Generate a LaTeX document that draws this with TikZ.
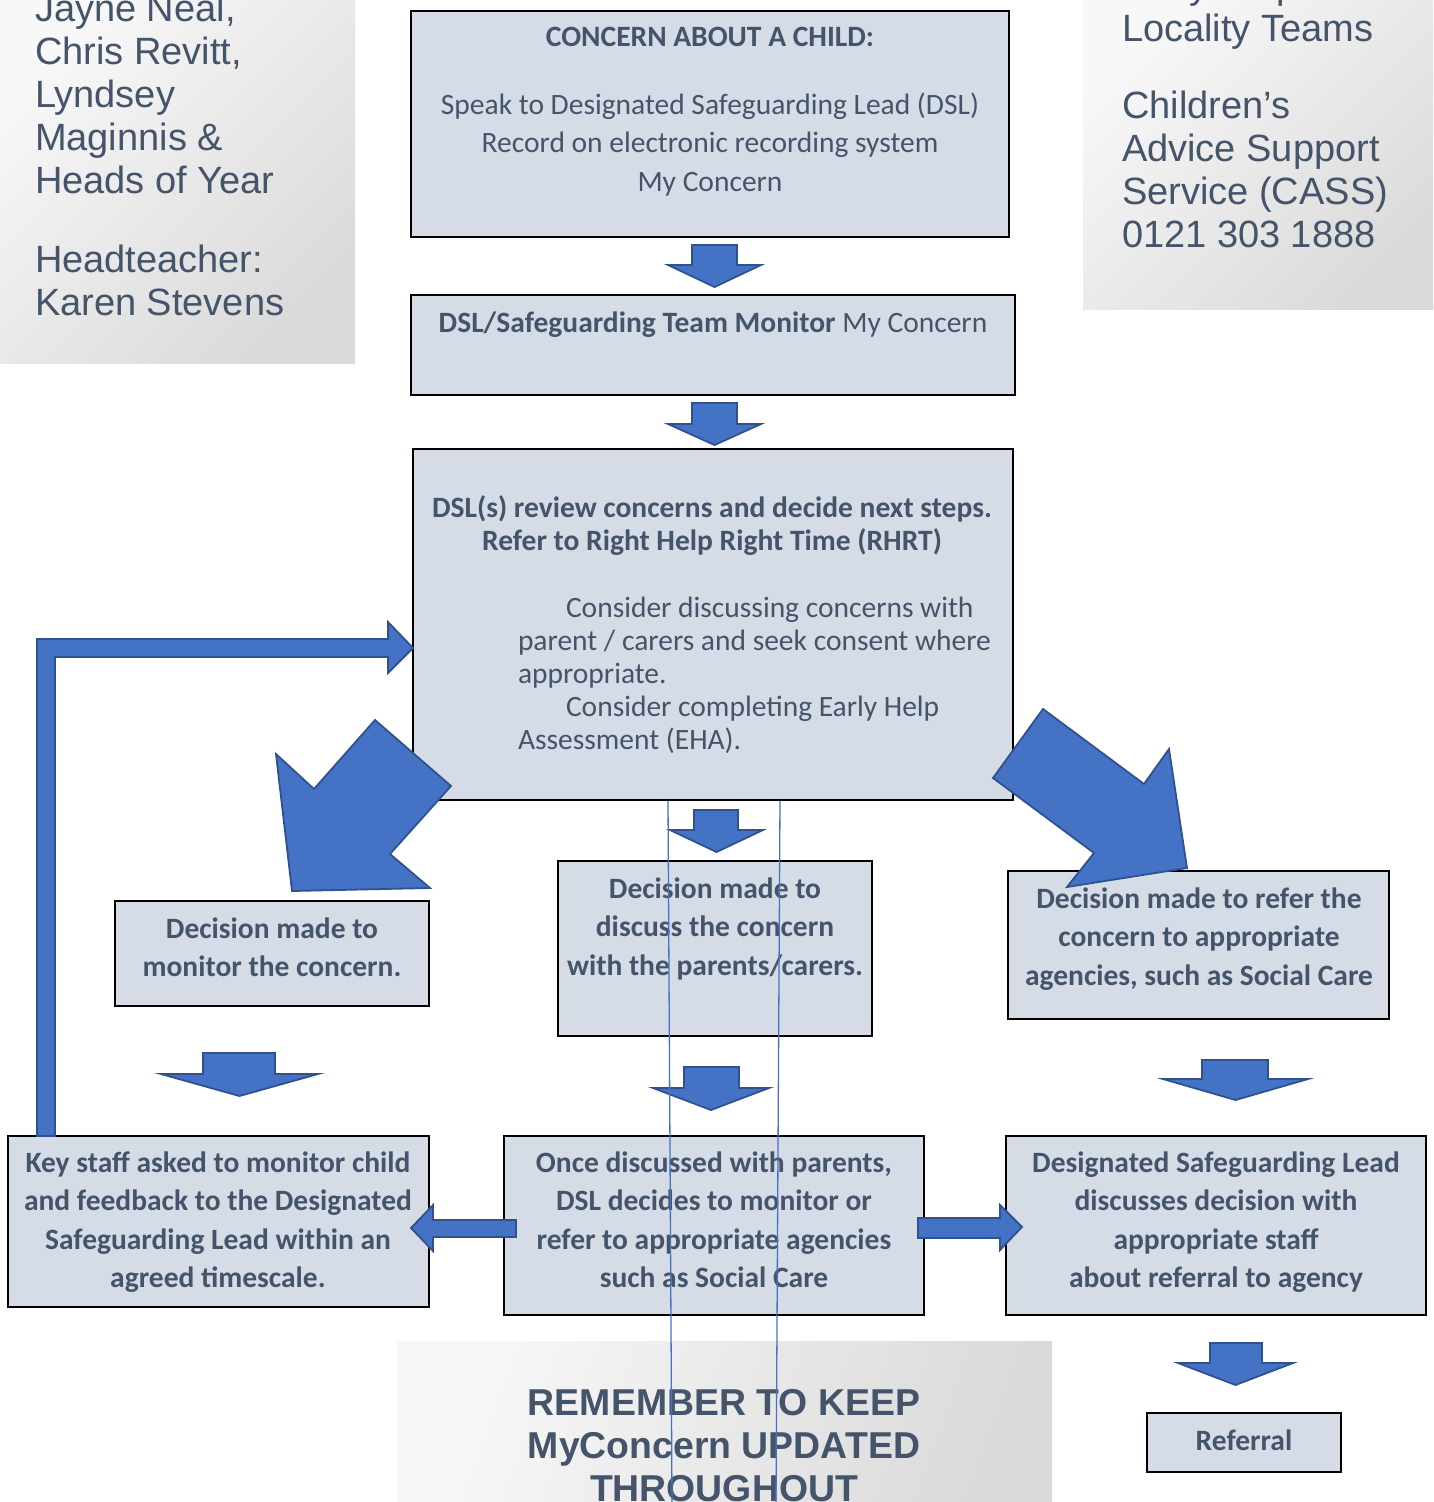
\documentclass[tikz,border=0pt]{standalone}
\usepackage{fontspec}
\setmainfont{Carlito}
\newfontfamily\arialf{Liberation Sans}
\definecolor{boxfill}{HTML}{D6DCE5}
\definecolor{tc}{HTML}{44546A}
\definecolor{ablue}{HTML}{4472C4}
\definecolor{aline}{HTML}{2F528F}
\definecolor{glight}{HTML}{F8F8F8}
\definecolor{gdark}{HTML}{DBDADB}
\newcommand\mlines[2]{\begin{tabular}[t]{@{}#1@{}}#2\end{tabular}}
\newcommand\dnarrow[7]{\draw[blk] (#1,#3) -- (#2,#3) -- (#2,#4) -- (#6,#4) -- ({(#5+#6)/2},#7) -- (#5,#4) -- (#1,#4) -- cycle;}
\tikzset{
  box/.style={draw=black, line width=2pt, fill=boxfill, inner sep=0pt, outer sep=0pt, anchor=north west},
  greybox/.style={draw=none, inner sep=0pt, outer sep=0pt, anchor=north west, top color=glight, bottom color=gdark, shading angle=45},
  txt/.style={text=tc, inner sep=0pt, outer sep=0pt, anchor=base, font=\fontsize{29.5}{38.5}\selectfont},
  btxt/.style={txt, font=\fontsize{29.5}{38.5}\selectfont\bfseries},
  gtxt/.style={text=tc, inner sep=0pt, outer sep=0pt, anchor=base west, font=\arialf\fontsize{38}{43}\selectfont},
  blk/.style={fill=ablue, draw=aline, line width=1.8pt, line join=miter},
  thin/.style={draw=ablue, line width=1.3pt}
}
\begin{document}
\begin{tikzpicture}[x=1pt,y=-1pt]
\useasboundingbox (0,0) rectangle (1433,1502);
\clip (0,0) rectangle (1433,1502);

% grey side panels
\node[greybox, minimum width=355pt, minimum height=370pt] (gleft) at (0,-7) {};
\node[greybox, minimum width=360pt, minimum height=316pt] (gright) at (1083,-7) {};
\node[greybox, minimum width=655pt, minimum height=170pt, shading angle=70] (gbot) at (397,1341) {};

\node[gtxt] (gl1) at (35,21) {\mlines{l}{Jayne Neal,\\Chris Revitt,\\Lyndsey\\Maginnis \&\\Heads of Year}};
\node[gtxt] (gl2) at (35,272) {\mlines{l}{Headteacher:\\Karen Stevens}};
\node[gtxt] (gr1) at (1122,-2) {\mlines{l}{Early Help\\Locality Teams}};
\node[gtxt] (gr2) at (1122,118) {\mlines{l}{Children’s\\Advice Support\\Service (CASS)\\0121 303 1888}};
\node[gtxt, anchor=base, font=\arialf\bfseries\fontsize{37.4}{43}\selectfont] (rem) at (724,1415) {\mlines{c}{REMEMBER TO KEEP\\MyConcern UPDATED\\THROUGHOUT}};

% boxes
\node[box, minimum width=598pt, minimum height=226pt] (boxA) at (411,11) {};
\node[box, minimum width=604pt, minimum height=100pt] (boxB) at (411,295) {};
\node[box, minimum width=600pt, minimum height=351pt] (boxC) at (413,449) {};
\node[box, minimum width=314pt, minimum height=105pt] (boxD1) at (115,901) {};
\node[box, minimum width=314pt, minimum height=175pt] (boxD2) at (558,861) {};
\node[box, minimum width=381pt, minimum height=148pt] (boxD3) at (1008,871) {};
\node[box, minimum width=421pt, minimum height=171pt] (boxE1) at (8,1136) {};
\node[box, minimum width=420pt, minimum height=179pt] (boxE2) at (504,1136) {};
\node[box, minimum width=420pt, minimum height=179pt] (boxE3) at (1006,1136) {};
\node[box, minimum width=194pt, minimum height=59pt] (boxF) at (1147,1413) {};

% texts
\node[btxt] (tA0) at (710,46) {CONCERN ABOUT A CHILD:};
\node[txt] (tA1) at (710,114) {\mlines{c}{Speak to Designated Safeguarding Lead (DSL)\\Record on electronic recording system\\My Concern}};
\node[txt] (tB) at (713,332) {\textbf{DSL/Safeguarding Team Monitor} My Concern};
\node[btxt, font=\fontsize{29.5}{33}\selectfont\bfseries] (tC0) at (712,517) {\mlines{c}{DSL(s) review concerns and decide next steps.\\Refer to Right Help Right Time (RHRT)}};
\node[txt, anchor=base west, font=\fontsize{29.5}{33}\selectfont] (tC1) at (518,617) {\mlines{l}{\hspace*{48pt}Consider discussing concerns with\\parent / carers and seek consent where\\appropriate.\\\hspace*{48pt}Consider completing Early Help\\Assessment (EHA).}};
\node[btxt] (tD1) at (272,938) {\mlines{c}{Decision made to\\monitor the concern.}};
\node[btxt] (tD2) at (715,898) {\mlines{c}{Decision made to\\discuss the concern\\with the parents/carers.}};
\node[btxt] (tD3) at (1199,908) {\mlines{c}{Decision made to refer the\\concern to appropriate\\agencies, such as Social Care}};
\node[btxt] (tE1) at (218,1172) {\mlines{c}{Key staff asked to monitor child\\and feedback to the Designated\\Safeguarding Lead within an\\agreed timescale.}};
\node[btxt] (tE2) at (714,1172) {\mlines{c}{Once discussed with parents,\\DSL decides to monitor or\\refer to appropriate agencies\\such as Social Care}};
\node[btxt] (tE3) at (1216,1172) {\mlines{c}{Designated Safeguarding Lead\\discusses decision with\\appropriate staff\\about referral to agency}};
\node[btxt] (tF) at (1244,1450) {Referral};

% block arrows down
\dnarrow{692}{737}{245}{265}{668}{761}{287}
\dnarrow{692}{737}{403}{424}{668}{761}{445}
\dnarrow{694}{738}{810}{830}{670}{763}{852}
\dnarrow{203}{275}{1053}{1074}{161}{318}{1096}
\dnarrow{684}{739}{1067}{1088}{653}{769}{1110}
\dnarrow{1202}{1268}{1060}{1079}{1163}{1308}{1100}
\dnarrow{1210}{1262}{1343}{1363}{1178}{1293}{1385}

% horizontal arrows
\draw[blk] (918,1218) -- (1000,1218) -- (1000,1205) -- (1022,1227) -- (1000,1250) -- (1000,1238) -- (918,1238) -- cycle;
\draw[blk] (516,1220) -- (433,1220) -- (433,1205) -- (411,1228) -- (433,1251) -- (433,1237) -- (516,1237) -- cycle;

% feedback loop arrow
\draw[blk] (37,1136) -- (37,639) -- (388,639) -- (388,622) -- (413,648) -- (388,673) -- (388,657) -- (55,657) -- (55,1136) -- cycle;

% diagonal arrows
\draw[blk] (292,891) -- (276,754) -- (314,789) -- (375,720) -- (451,786) -- (390,854) -- (430,888) -- cycle;
\draw[blk] (1043,709) -- (1144,784) -- (1169,749) -- (1187,868) -- (1067,887) -- (1094,853) -- (993,778) -- cycle;

% thin vertical lines
\draw[thin] (668,801) -- (672,1502);
\draw[thin] (780,801) -- (776,1502);
\end{tikzpicture}
\end{document}
